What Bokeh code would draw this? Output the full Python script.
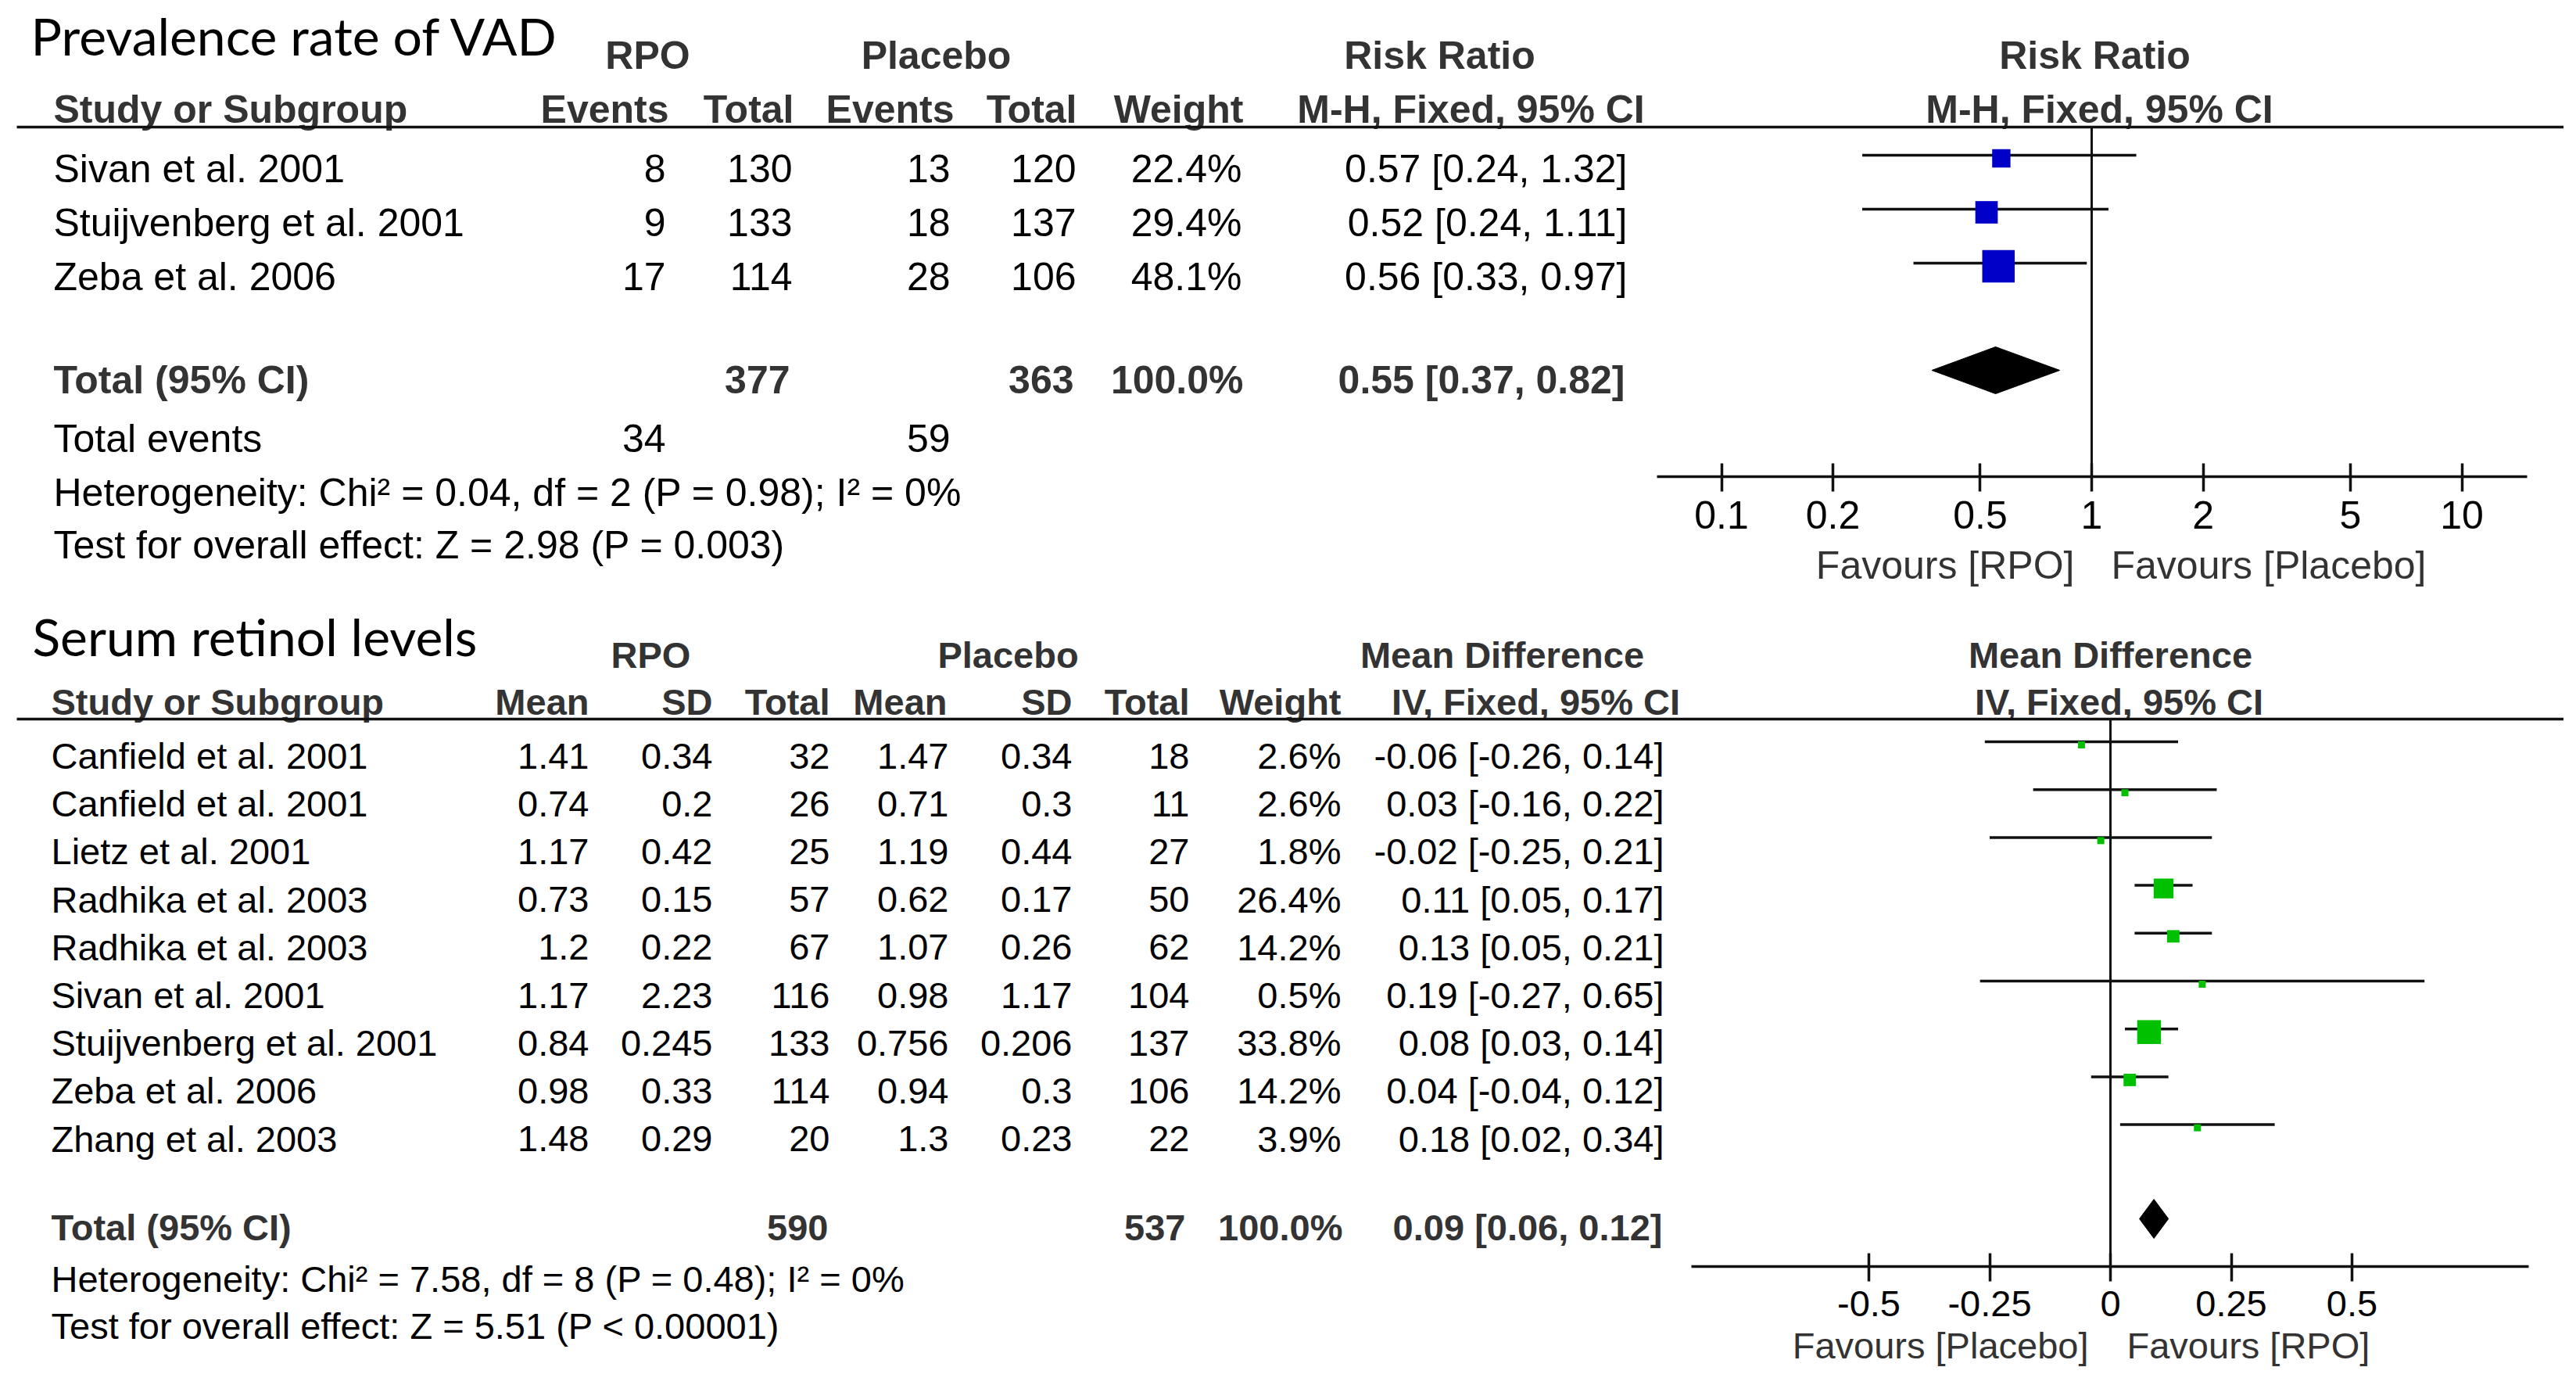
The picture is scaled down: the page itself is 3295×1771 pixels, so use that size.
from bokeh.plotting import figure
from bokeh.models import (Range1d, LogScale, LinearScale, LogAxis, LinearAxis,
                          FixedTicker, CustomJSTickFormatter, ColumnDataSource)
from bokeh.core.properties import value
from bokeh.embed import file_html
from bokeh.resources import INLINE

# ---------------- data: prevalence rate of VAD ----------------
vad_studies = ["Sivan et al. 2001", "Stuijvenberg et al. 2001", "Zeba et al. 2006"]
vad_rpo_events = [8, 9, 17]
vad_rpo_total = [130, 133, 114]
vad_pl_events = [13, 18, 28]
vad_pl_total = [120, 137, 106]
vad_weight = [22.4, 29.4, 48.1]
vad_rr = [0.57, 0.52, 0.56]
vad_lo = [0.24, 0.24, 0.33]
vad_hi = [1.32, 1.11, 0.97]
vad_total_rpo, vad_total_pl = 377, 363
vad_events_rpo, vad_events_pl = 34, 59
vad_pooled = (0.55, 0.37, 0.82)
vad_het = "Heterogeneity: Chi\u00b2 = 0.04, df = 2 (P = 0.98); I\u00b2 = 0%"
vad_test = "Test for overall effect: Z = 2.98 (P = 0.003)"
rr_ticks = [0.1, 0.2, 0.5, 1, 2, 5, 10]

# ---------------- data: serum retinol levels ----------------
ret_studies = ["Canfield et al. 2001", "Canfield et al. 2001", "Lietz et al. 2001",
               "Radhika et al. 2003", "Radhika et al. 2003", "Sivan et al. 2001",
               "Stuijvenberg et al. 2001", "Zeba et al. 2006", "Zhang et al. 2003"]
ret_rpo_mean = [1.41, 0.74, 1.17, 0.73, 1.2, 1.17, 0.84, 0.98, 1.48]
ret_rpo_sd = [0.34, 0.2, 0.42, 0.15, 0.22, 2.23, 0.245, 0.33, 0.29]
ret_rpo_n = [32, 26, 25, 57, 67, 116, 133, 114, 20]
ret_pl_mean = [1.47, 0.71, 1.19, 0.62, 1.07, 0.98, 0.756, 0.94, 1.3]
ret_pl_sd = [0.34, 0.3, 0.44, 0.17, 0.26, 1.17, 0.206, 0.3, 0.23]
ret_pl_n = [18, 11, 27, 50, 62, 104, 137, 106, 22]
ret_weight = [2.6, 2.6, 1.8, 26.4, 14.2, 0.5, 33.8, 14.2, 3.9]
ret_md = [-0.06, 0.03, -0.02, 0.11, 0.13, 0.19, 0.08, 0.04, 0.18]
ret_lo = [-0.26, -0.16, -0.25, 0.05, 0.05, -0.27, 0.03, -0.04, 0.02]
ret_hi = [0.14, 0.22, 0.21, 0.17, 0.21, 0.65, 0.14, 0.12, 0.34]
ret_total_rpo, ret_total_pl = 590, 537
ret_pooled = (0.09, 0.06, 0.12)
ret_het = "Heterogeneity: Chi\u00b2 = 7.58, df = 8 (P = 0.48); I\u00b2 = 0%"
ret_test = "Test for overall effect: Z = 5.51 (P < 0.00001)"
md_ticks = [-0.5, -0.25, 0, 0.25, 0.5]

# ---------------- layout constants (page pixels) ----------------
W, H = 3279, 1755
X0, Y0 = 0, 2                        # data coordinate at the figure's top-left corner
FONT = "Liberation Sans"
TITLE_FONT = "Lato"
HDR = "#333333"
BASE_SHIFT = {FONT: 0.36, TITLE_FONT: 0.42}   # baseline correction (em)
RR_ONE, RR_DEC = 2675.0, 473.5      # pixel of RR=1, pixels per decade
MD_ZERO, MD_UNIT = 2699.0, 618.0    # pixel of MD=0, pixels per unit

p = figure(width=W, height=H, output_backend="svg", toolbar_location=None,
           x_range=Range1d(X0, X0 + W), y_range=Range1d(Y0 + H, Y0),
           x_axis_type=None, y_axis_type=None, min_border=0)
p.outline_line_color = None
p.background_fill_color = "white"
p.border_fill_color = "white"
p.extra_x_ranges = {
    "rr": Range1d(10 ** ((X0 - RR_ONE) / RR_DEC), 10 ** ((X0 + W - RR_ONE) / RR_DEC)),
    "md": Range1d((X0 - MD_ZERO) / MD_UNIT, (X0 + W - MD_ZERO) / MD_UNIT),
}
p.extra_x_scales = {"rr": LogScale(), "md": LinearScale()}


def txt(xs, ys, texts, size, align="left", bold=False, font=FONT, color="black",
        rng="default", x_offset=0):
    k = BASE_SHIFT[font] * size
    src = ColumnDataSource(dict(x=list(xs), y=[y - k for y in ys], t=[str(t) for t in texts]))
    p.text(x="x", y="y", text="t", source=src, text_font=value(font),
           text_font_size=f"{size}px", text_align=align, text_baseline="alphabetic",
           text_color=color, text_font_style="bold" if bold else "normal",
           x_range_name=rng, x_offset=x_offset)


def hline(x0, x1, y, width=3.5):
    p.segment(x0=[x0], x1=[x1], y0=[y], y1=[y], line_color="#111111", line_width=width)


# =================== TOP: Prevalence rate of VAD ===================
n = len(vad_studies)
top_base = [235 + 69 * i for i in range(n)]
top_line = [b - 35 for b in top_base]
top_box = [b - 31 for b in top_base]
FS = 50

txt([39], [75], ["Prevalence rate of VAD"], 66, font=TITLE_FONT)
txt([828, 1197, 1841, 2679], [90] * 4, ["RPO", "Placebo", "Risk Ratio", "Risk Ratio"],
    FS, align="center", bold=True, color=HDR)
txt([68], [159], ["Study or Subgroup"], FS, bold=True, color=HDR)
txt([855, 1015, 1220, 1377, 1590], [159] * 5,
    ["Events", "Total", "Events", "Total", "Weight"], FS, align="right", bold=True, color=HDR)
txt([1881, 2685], [159] * 2, ["M-H, Fixed, 95% CI"] * 2, FS, align="center", bold=True, color=HDR)
hline(21, 3286, 164)

txt([68] * n, top_base, vad_studies, FS)
txt([851] * n, top_base, vad_rpo_events, FS, align="right")
txt([1013] * n, top_base, vad_rpo_total, FS, align="right")
txt([1215] * n, top_base, vad_pl_events, FS, align="right")
txt([1376] * n, top_base, vad_pl_total, FS, align="right")
txt([1588] * n, top_base, [f"{w:.1f}%" for w in vad_weight], FS, align="right")
txt([2081] * n, top_base, [f"{r:.2f} [{a:.2f}, {b:.2f}]" for r, a, b in zip(vad_rr, vad_lo, vad_hi)],
    FS, align="right")

tb = 505
txt([68], [tb], ["Total (95% CI)"], FS, bold=True, color=HDR)
txt([1010, 1373, 1590], [tb] * 3, [vad_total_rpo, vad_total_pl, "100.0%"], FS, align="right",
    bold=True, color=HDR)
txt([2078], [tb], ["%.2f [%.2f, %.2f]" % vad_pooled], FS, align="right", bold=True, color=HDR)
txt([68], [580], ["Total events"], FS)
txt([851, 1215], [580, 580], [vad_events_rpo, vad_events_pl], FS, align="right")
txt([68], [649], [vad_het], FS)
txt([68], [716], [vad_test], FS)

# forest plot (log scale)
p.segment(x0=[1], x1=[1], y0=[164], y1=[611], x_range_name="rr", line_color="#111111", line_width=3)
p.segment(x0=vad_lo, x1=vad_hi, y0=top_line, y1=top_line, x_range_name="rr",
          line_color="#111111", line_width=3.5)
wmax = max(vad_weight)
p.scatter(x=vad_rr, y=top_box, marker="square",
          size=[max(9, 41.5 * (w / wmax) ** 0.75) for w in vad_weight],
          x_range_name="rr", fill_color="#0000C8", line_color=None)
est, lo, hi = vad_pooled
dy = tb - 30
p.patch(x=[lo, est, hi, est], y=[dy, dy - 30, dy, dy + 30], x_range_name="rr",
        fill_color="black", line_color="black", line_width=1)

ax1 = LogAxis(x_range_name="rr", fixed_location=611, ticker=FixedTicker(ticks=rr_ticks),
              formatter=CustomJSTickFormatter(code="return tick.toString()"),
              bounds=(10 ** ((2119 - RR_ONE) / RR_DEC), 10 ** ((3232 - RR_ONE) / RR_DEC)))
p.add_layout(ax1, "below")

txt([1], [742], ["Favours [RPO]"], FS, align="right", color=HDR, rng="rr", x_offset=-22)
txt([1], [742], ["Favours [Placebo]"], FS, align="left", color=HDR, rng="rr", x_offset=25)

# =================== BOTTOM: Serum retinol levels ===================
m = len(ret_studies)
bot_base = [985 + 61.2 * i for i in range(m)]
bot_line = [b - 35 for b in bot_base]
bot_box = [b - 31 for b in bot_base]
FB = 47

txt([41], [843], ["Serum retinol levels"], 66, font=TITLE_FONT)
txt([832, 1289, 1921, 2699], [856] * 4, ["RPO", "Placebo", "Mean Difference", "Mean Difference"],
    FB, align="center", bold=True, color=HDR)
txt([65], [916], ["Study or Subgroup"], FB, bold=True, color=HDR)
txt([753, 911, 1061, 1211, 1371, 1521, 1715], [916] * 7,
    ["Mean", "SD", "Total", "Mean", "SD", "Total", "Weight"], FB, align="right", bold=True, color=HDR)
txt([1964, 2710], [916] * 2, ["IV, Fixed, 95% CI"] * 2, FB, align="center", bold=True, color=HDR)
hline(21, 3286, 921)

txt([65] * m, bot_base, ret_studies, FB)
txt([753] * m, bot_base, ret_rpo_mean, FB, align="right")
txt([911] * m, bot_base, ret_rpo_sd, FB, align="right")
txt([1061] * m, bot_base, ret_rpo_n, FB, align="right")
txt([1213] * m, bot_base, ret_pl_mean, FB, align="right")
txt([1371] * m, bot_base, ret_pl_sd, FB, align="right")
txt([1521] * m, bot_base, ret_pl_n, FB, align="right")
txt([1715] * m, bot_base, [f"{w:.1f}%" for w in ret_weight], FB, align="right")
txt([2128] * m, bot_base, [f"{d:.2f} [{a:.2f}, {b:.2f}]" for d, a, b in zip(ret_md, ret_lo, ret_hi)],
    FB, align="right")

bb = 1588
txt([65], [bb], ["Total (95% CI)"], FB, bold=True, color=HDR)
txt([1059, 1516, 1717], [bb] * 3, [ret_total_rpo, ret_total_pl, "100.0%"], FB, align="right",
    bold=True, color=HDR)
txt([2126], [bb], ["%.2f [%.2f, %.2f]" % ret_pooled], FB, align="right", bold=True, color=HDR)
txt([65], [1654], [ret_het], FB)
txt([65], [1714], [ret_test], FB)

p.segment(x0=[0], x1=[0], y0=[921], y1=[1621], x_range_name="md", line_color="#111111", line_width=3)
p.segment(x0=ret_lo, x1=ret_hi, y0=bot_line, y1=bot_line, x_range_name="md",
          line_color="#111111", line_width=3.5)
wmax2 = max(ret_weight)
p.scatter(x=ret_md, y=bot_box, marker="square",
          size=[max(9, 30.5 * (w / wmax2) ** 0.75) for w in ret_weight],
          x_range_name="md", fill_color="#00C000", line_color=None)
est2, lo2, hi2 = ret_pooled
dy2 = bb - 28
p.patch(x=[lo2, est2, hi2, est2], y=[dy2, dy2 - 25, dy2, dy2 + 25], x_range_name="md",
        fill_color="black", line_color="black", line_width=1)

ax2 = LinearAxis(x_range_name="md", fixed_location=1621, ticker=FixedTicker(ticks=md_ticks),
                 formatter=CustomJSTickFormatter(code="return tick.toString()"),
                 bounds=((2163 - MD_ZERO) / MD_UNIT, (3234 - MD_ZERO) / MD_UNIT))
p.add_layout(ax2, "below")

txt([0], [1739], ["Favours [Placebo]"], FB, align="right", color=HDR, rng="md", x_offset=-28)
txt([0], [1739], ["Favours [RPO]"], FB, align="left", color=HDR, rng="md", x_offset=21)

for ax, fs in ((ax1, FS), (ax2, FB)):
    ax.axis_line_width = 3.5
    ax.axis_line_color = "#111111"
    ax.major_tick_line_width = 3.5
    ax.major_tick_line_color = "#111111"
    ax.major_tick_in = 17
    ax.major_tick_out = 19
    ax.minor_tick_line_color = None
    ax.major_label_text_font = FONT
    ax.major_label_text_font_size = f"{fs}px"
    ax.major_label_text_color = "black"
    ax.major_label_standoff = 12

open("out.html", "w").write(file_html(p, INLINE))
